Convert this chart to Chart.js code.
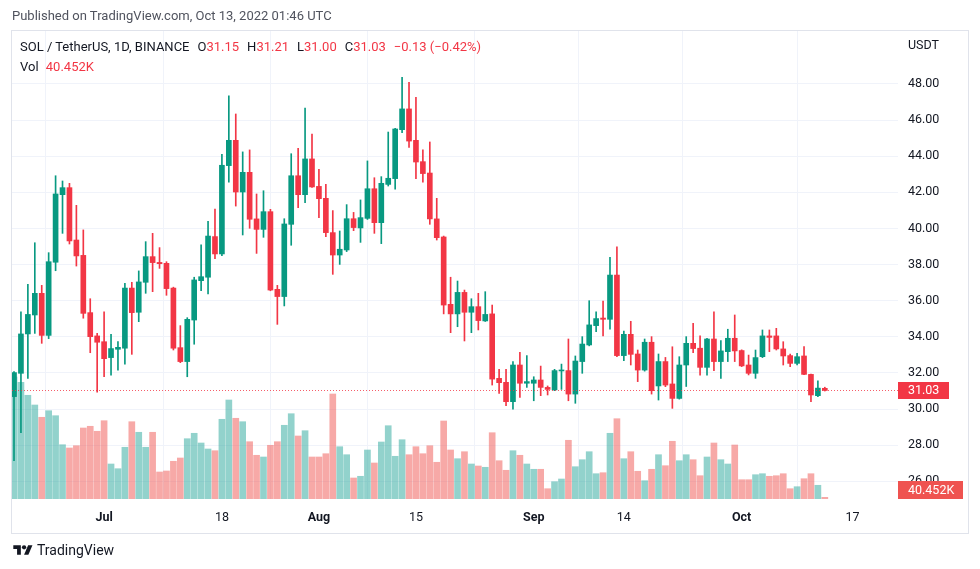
<!DOCTYPE html>
<html>
<head>
<meta charset="utf-8">
<title>SOL / TetherUS, 1D, BINANCE</title>
<script src="https://cdn.jsdelivr.net/npm/chart.js@4.4.0/dist/chart.umd.min.js"></script>
<style>
    html, body { margin: 0; padding: 0; background: #fff; }
    body { width: 980px; height: 569px; position: relative; overflow: hidden; font-family: Roboto, "Noto Sans", sans-serif; }
    #c { position: absolute; left: 0; top: 0; }
    .frame { position: absolute; left: 11px; top: 30px; width: 958px; height: 504px; border: 1px solid #e0e3eb; box-sizing: border-box; pointer-events: none; }
    .published { position: absolute; left: 12px; top: 8px; font-size: 13px; color: #50535e; white-space: nowrap; }
    .legend { position: absolute; left: 20px; top: 37px; font-size: 13px; color: #131722; line-height: 20px; white-space: nowrap; }
    .legend .v { color: #f23645; }
    .legend .g { margin-left: 8px; }
    .unit { position: absolute; left: 908px; top: 37px; font-size: 12.5px; color: #131722; line-height: 16px; }
    .logo { position: absolute; left: 12px; top: 542px; font-size: 14px; color: #131722; display: flex; align-items: center; }
    .logo svg { margin-right: 3px; }
</style>
</head>
<body>
<canvas id="c" width="980" height="569"></canvas>
<div class="frame"></div>
<div class="published">Published on TradingView.com, Oct 13, 2022 01:46 UTC</div>
<div class="legend" id="legend"></div>
<div class="unit">USDT</div>
<div class="logo">
    <svg width="22" height="14" viewBox="0 0 36 26"><path d="M14 22H7V11H0V4h14v18z" fill="#131722"/><circle cx="20" cy="8" r="4" fill="#131722"/><path d="M28 22h-8l7.5-18h8L28 22z" fill="#131722"/></svg>
    <span>TradingView</span>
</div>
<script>
// Daily candles, day 0 = Jun 18 2022, last = Oct 13 2022
const opens = [
    30.69, 31.98, 34.16, 35.21, 36.41, 34.08, 38.13, 41.87, 42.26, 39.36,
    38.51, 35.34, 34.05, 33.73, 32.85, 33.31, 33.37, 36.70, 35.36, 37.02,
    38.44, 38.12, 38.07, 36.70, 33.40, 32.63, 34.93, 37.11, 37.30, 39.55,
    38.59, 43.48, 44.88, 42.02, 43.11, 40.53, 39.95, 40.93, 36.63, 36.23,
    40.23, 42.92, 41.87, 43.85, 42.33, 41.67, 39.77, 38.53, 38.81, 40.54,
    40.03, 40.56, 42.20, 40.32, 42.44, 42.76, 45.47, 46.62, 44.88, 43.70,
    43.07, 40.53, 39.53, 35.80, 35.27, 36.46, 35.36, 35.67, 34.88, 35.27,
    31.70, 31.48, 30.41, 32.44, 31.43, 31.43, 31.61, 31.20, 31.06, 32.11,
    32.13, 30.83, 32.63, 33.55, 34.62, 35.04, 34.97, 37.42, 32.96, 34.14,
    33.05, 32.16, 33.70, 31.28, 32.63, 31.39, 30.59, 32.44, 33.64, 33.37,
    32.31, 33.88, 32.63, 33.18, 33.92, 33.24, 32.44, 31.98, 32.90, 34.05,
    34.05, 33.33, 32.96, 32.53, 32.94, 31.92, 30.74, 31.15
];
const highs = [
    32.07, 35.39, 36.91, 39.21, 36.85, 38.66, 42.92, 42.63, 42.50, 41.28,
    39.92, 36.11, 34.19, 35.39, 34.14, 33.73, 36.96, 37.02, 37.65, 39.27,
    39.73, 38.94, 38.16, 36.75, 34.62, 35.06, 37.30, 39.09, 40.40, 41.08,
    44.11, 47.35, 46.34, 44.24, 44.35, 41.91, 42.09, 41.06, 36.85, 40.54,
    44.14, 44.44, 46.67, 45.23, 43.28, 42.44, 40.99, 39.86, 41.32, 40.89,
    41.58, 43.74, 42.81, 42.87, 45.34, 45.55, 48.37, 48.09, 47.26, 44.35,
    44.79, 41.67, 39.58, 37.30, 37.09, 36.59, 36.11, 36.41, 36.50, 35.76,
    32.20, 32.20, 32.63, 33.14, 32.96, 31.79, 32.38, 31.28, 32.20, 32.49,
    33.88, 32.94, 34.01, 36.00, 35.39, 35.98, 38.40, 38.99, 34.32, 34.86,
    33.27, 33.88, 34.01, 33.05, 32.86, 33.45, 32.90, 34.01, 34.75, 34.05,
    33.92, 35.39, 33.79, 34.42, 35.21, 33.28, 32.99, 33.27, 34.38, 34.38,
    34.47, 33.73, 33.05, 33.09, 33.46, 31.94, 31.57, 31.21
];
const lows = [
    27.14, 28.69, 31.70, 34.19, 33.64, 33.90, 37.66, 39.73, 39.14, 37.92,
    35.03, 33.12, 30.93, 31.79, 31.87, 32.16, 32.48, 33.03, 34.84, 36.41,
    36.50, 37.79, 36.30, 33.27, 32.57, 31.79, 33.59, 36.56, 36.37, 38.33,
    38.50, 42.57, 41.24, 39.64, 40.01, 38.62, 39.51, 36.55, 34.69, 35.71,
    39.07, 41.15, 41.43, 42.28, 40.60, 39.55, 37.46, 38.01, 38.72, 39.88,
    39.23, 40.50, 39.73, 39.16, 42.35, 42.17, 45.31, 44.49, 42.76, 42.56,
    40.23, 39.36, 35.27, 34.23, 34.56, 33.77, 34.23, 34.38, 34.85, 31.33,
    30.87, 30.19, 30.00, 30.65, 31.20, 30.46, 30.74, 30.78, 31.02, 31.09,
    30.46, 30.32, 31.98, 33.50, 34.29, 34.05, 34.42, 32.90, 32.68, 32.44,
    31.52, 32.10, 30.83, 30.50, 31.24, 30.04, 30.55, 31.25, 33.12, 31.87,
    31.87, 32.13, 31.70, 32.63, 32.63, 32.35, 31.89, 31.70, 32.85, 33.18,
    33.27, 32.44, 32.35, 32.44, 31.90, 30.41, 30.69, 31.00
];
const closes = [
    32.02, 34.16, 35.24, 36.41, 34.08, 38.16, 41.91, 42.26, 39.31, 38.48,
    35.30, 34.01, 33.70, 32.79, 33.35, 33.42, 36.70, 35.34, 37.04, 38.44,
    38.11, 38.05, 36.67, 33.37, 32.63, 34.97, 37.15, 37.33, 39.58, 38.59,
    43.50, 44.88, 42.02, 43.11, 40.51, 39.95, 40.93, 36.59, 36.23, 40.25,
    42.92, 41.87, 43.85, 42.30, 41.65, 39.77, 38.53, 38.85, 40.54, 40.05,
    40.60, 42.20, 40.32, 42.50, 42.78, 45.51, 46.62, 44.84, 43.68, 43.04,
    40.53, 39.49, 35.76, 35.27, 36.46, 35.36, 35.67, 34.90, 35.24, 31.66,
    31.46, 30.41, 32.44, 31.43, 31.52, 31.61, 31.20, 31.09, 32.13, 32.16,
    30.83, 32.66, 33.60, 34.66, 35.01, 34.97, 37.42, 32.96, 34.14, 33.03,
    32.16, 33.70, 31.02, 32.63, 31.33, 30.59, 32.44, 33.64, 33.35, 32.31,
    33.88, 32.63, 33.22, 33.92, 33.22, 32.39, 31.98, 32.85, 34.05, 33.97,
    33.33, 32.94, 32.53, 32.90, 31.92, 30.78, 31.16, 31.03
];
// Volume in thousands of SOL
const volumes = [
    2928, 2800, 2489, 2256, 1961, 2119, 1999, 1303, 1224, 1279,
    1704, 1745, 1625, 1879, 840, 727, 1241, 1855, 1601, 1241,
    1601, 648, 672, 905, 984, 1447, 1577, 1344, 1200, 1159,
    1913, 2376, 1937, 1855, 1375, 1049, 1008, 1289, 1375, 1769,
    2047, 1512, 1639, 1008, 1008, 1087, 2520, 1255, 1063, 504,
    545, 1176, 864, 1368, 1759, 1025, 1423, 1063, 1255, 1087,
    1279, 881, 1872, 1176, 967, 1135, 840, 792, 761, 1591,
    919, 689, 1159, 1049, 840, 713, 713, 247, 415, 480,
    1409, 775, 943, 1135, 607, 631, 1577, 1927, 967, 1135,
    665, 439, 713, 1063, 799, 1385, 919, 1063, 943, 559,
    1008, 1344, 943, 840, 1296, 463, 463, 583, 607, 545,
    559, 607, 247, 295, 487, 607, 329, 40.452
];

// Axis ticks
const tickDays = [13, 30, 44, 58, 75, 88, 105, 121];
const tickLabels = ['Jul', '18', 'Aug', '15', 'Sep', '14', 'Oct', '17'];
const monthLabels = ['Jul', 'Aug', 'Sep', 'Oct'];
const priceTicks = [26, 28, 30, 32, 34, 36, 38, 40, 42, 44, 46, 48];

const UP = '#089981';
const DOWN = '#f23645';
const UP_VOL = 'rgba(38, 166, 154, 0.5)';
const DOWN_VOL = 'rgba(239, 83, 80, 0.5)';
const GRID = '#f0f3fa';
const FONT = 'Roboto, "Noto Sans", sans-serif';

const last = closes.length - 1;
const isUp = closes.map((c, i) => c >= opens[i]);

// Legend line (OHLC of the last candle)
function fmt(v) {
    return v.toFixed(2);
}
function buildLegend() {
    const chg = closes[last] - closes[last - 1];
    const pct = chg / closes[last - 1] * 100;
    const sign = v => (v < 0 ? '\u2212' : '+') + Math.abs(v).toFixed(2);
    const el = document.getElementById('legend');
    el.innerHTML =
        '<div>SOL / TetherUS, 1D, BINANCE' +
        '<span class="g">O<span class="v">' + fmt(opens[last]) + '</span></span>' +
        '<span class="g">H<span class="v">' + fmt(highs[last]) + '</span></span>' +
        '<span class="g">L<span class="v">' + fmt(lows[last]) + '</span></span>' +
        '<span class="g">C<span class="v">' + fmt(closes[last]) + '</span></span>' +
        '<span class="g v">' + sign(chg) + ' (' + sign(pct) + '%)</span></div>' +
        '<div>Vol <span class="v" style="margin-left:4px">' + volumes[last].toFixed(3) + 'K</span></div>';
}
buildLegend();

// Dotted last-price line and axis labels
const lastPricePlugin = {
    id: 'lastPrice',
    afterDatasetsDraw(chart) {
        const { ctx, chartArea, scales } = chart;
        const y = Math.round(scales.y.getPixelForValue(closes[last])) + 0.5;
        ctx.save();
        ctx.strokeStyle = 'rgba(242, 54, 69, 0.8)';
        ctx.lineWidth = 1;
        ctx.setLineDash([1, 2]);
        ctx.beginPath();
        ctx.moveTo(chartArea.left, y);
        ctx.lineTo(chartArea.right, y);
        ctx.stroke();
        ctx.restore();
    },
    afterDraw(chart) {
        const { ctx, chartArea, scales } = chart;
        const x0 = chartArea.right;
        ctx.save();
        ctx.font = '12.5px ' + FONT;
        ctx.textBaseline = 'middle';

        // price label
        const py = scales.y.getPixelForValue(closes[last]);
        ctx.fillStyle = isUp[last] ? UP : DOWN;
        ctx.fillRect(x0, Math.round(py - 8.5), 51, 17);
        ctx.fillStyle = '#fff';
        ctx.fillText(fmt(closes[last]), x0 + 10, py + 0.5);

        // volume label
        let vy = scales.vol.getPixelForValue(volumes[last]);
        vy = Math.min(vy, chartArea.bottom - 9);
        ctx.fillStyle = isUp[last] ? '#26a69a' : '#ef5350';
        ctx.fillRect(x0, Math.round(vy - 9), 65, 18);
        ctx.fillStyle = '#fff';
        ctx.fillText(volumes[last].toFixed(3) + 'K', x0 + 10, vy + 0.5);
        ctx.restore();
    }
};

function createCandleChart(canvasId) {
    const ctx = document.getElementById(canvasId);
    return new Chart(ctx, {
        type: 'bar',
        data: {
            datasets: [
                {
                    label: 'Body',
                    data: opens.map((o, i) => ({ x: i, y: [o, closes[i]] })),
                    backgroundColor: isUp.map(u => u ? UP : DOWN),
                    barThickness: 5,
                    minBarLength: 1,
                    grouped: false,
                    order: 1
                },
                {
                    label: 'Wick',
                    data: lows.map((l, i) => ({ x: i, y: [l, highs[i]] })),
                    backgroundColor: isUp.map(u => u ? UP : DOWN),
                    barThickness: 1,
                    grouped: false,
                    order: 2
                },
                {
                    label: 'Vol',
                    data: volumes.map((v, i) => ({ x: i, y: v })),
                    backgroundColor: isUp.map(u => u ? UP_VOL : DOWN_VOL),
                    barThickness: 6,
                    grouped: false,
                    yAxisID: 'vol',
                    order: 3
                }
            ]
        },
        options: {
            responsive: false,
            animation: false,
            devicePixelRatio: 1,
            layout: { padding: { left: 12, right: 12, top: 30, bottom: 36 } },
            plugins: {
                legend: { display: false },
                tooltip: { enabled: false }
            },
            scales: {
                x: {
                    type: 'linear',
                    min: -0.29,
                    max: 127.56,
                    offset: false,
                    grid: { color: GRID, drawTicks: false },
                    border: { display: false },
                    afterBuildTicks: s => { s.ticks = tickDays.map(v => ({ value: v })); },
                    afterFit: s => { s.height = 34; },
                    ticks: {
                        autoSkip: false,
                        maxRotation: 0,
                        padding: 11,
                        color: '#131722',
                        font: c => ({
                            family: FONT,
                            size: 12.5,
                            weight: (c.tick && monthLabels.includes(tickLabels[tickDays.indexOf(c.tick.value)])) ? 'bold' : 'normal'
                        }),
                        callback: v => tickLabels[tickDays.indexOf(v)]
                    }
                },
                y: {
                    position: 'right',
                    min: 25.02,
                    max: 50.99,
                    grid: { color: GRID, drawTicks: false },
                    border: { display: false },
                    afterBuildTicks: s => { s.ticks = priceTicks.map(v => ({ value: v })); },
                    afterFit: s => { s.width = 70; },
                    ticks: {
                        padding: 10,
                        color: '#131722',
                        font: { family: FONT, size: 12.5 },
                        callback: v => fmt(v)
                    }
                },
                vol: {
                    display: false,
                    min: 0,
                    max: 11256
                }
            }
        },
        plugins: [lastPricePlugin]
    });
}

createCandleChart('c');
</script>
</body>
</html>
